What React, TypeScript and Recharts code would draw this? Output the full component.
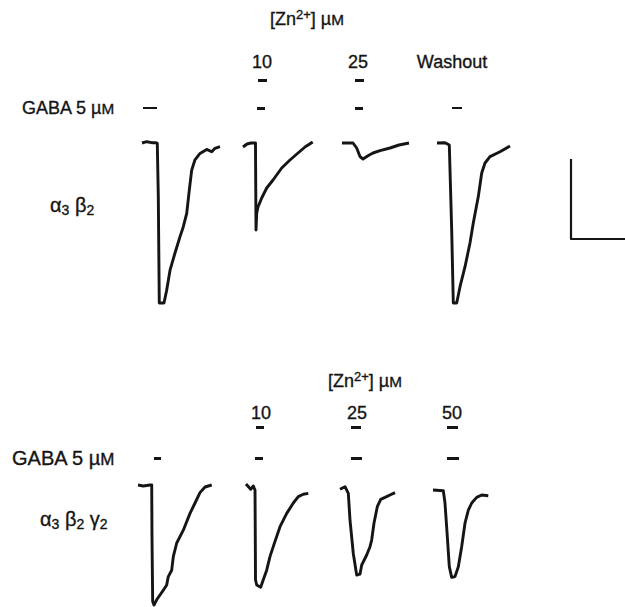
import React from "react";
import { LineChart, Line, XAxis, YAxis } from "recharts";

// scale: 10 s horizontal bar, 100 nA vertical bar
const PX_PER_S = 5.4;
const PX_PER_NA = 0.8;
const W = 625;

// alpha3 beta2 traces (t in s, i in nA)
const a3b2Control = [
  { t: 0, i: 0 }, { t: 0.87, i: 1.6 }, { t: 1.8, i: 0.4 }, { t: 2.59, i: 0.4 },
  { t: 2.83, i: -0.4 }, { t: 3.02, i: -67 }, { t: 3.2, i: -200 }, { t: 4.07, i: -200 },
  { t: 4.57, i: -184 }, { t: 5.19, i: -159 }, { t: 6.11, i: -137.5 }, { t: 7.04, i: -117 },
  { t: 7.65, i: -104.6 }, { t: 8.28, i: -88 }, { t: 8.76, i: -59 }, { t: 9.2, i: -34 },
  { t: 9.81, i: -21 }, { t: 10.74, i: -13 }, { t: 11.98, i: -8 }, { t: 12.91, i: -11 },
  { t: 13.52, i: -6.6 }, { t: 14.44, i: -4.6 },
];
const a3b2Zn10 = [
  { t: 0, i: -5 }, { t: 0.74, i: -1.25 }, { t: 1.48, i: 0 }, { t: 2.31, i: 0 },
  { t: 2.41, i: -108.75 }, { t: 2.54, i: -87.5 }, { t: 2.78, i: -80 }, { t: 3.46, i: -68.75 },
  { t: 4.39, i: -56.25 }, { t: 5.56, i: -46.25 }, { t: 7.17, i: -31.25 }, { t: 8.7, i: -21.25 },
  { t: 10.19, i: -12.5 }, { t: 11.48, i: -5 }, { t: 12.91, i: 1.25 },
];
const a3b2Zn25 = [
  { t: 0, i: 0 }, { t: 2.04, i: 0 }, { t: 2.72, i: -6.25 }, { t: 3.33, i: -17 },
  { t: 3.89, i: -20 }, { t: 4.81, i: -16 }, { t: 5.74, i: -12.5 }, { t: 7.04, i: -9.6 },
  { t: 8.89, i: -6.25 }, { t: 10.56, i: -2.5 }, { t: 12.41, i: 0 },
];
const a3b2Washout = [
  { t: 0, i: 0 }, { t: 1.48, i: 0.4 }, { t: 2.28, i: -2.5 }, { t: 2.72, i: -108.75 },
  { t: 3.02, i: -200 }, { t: 3.65, i: -200 }, { t: 4.26, i: -179.6 }, { t: 5.19, i: -154.6 },
  { t: 6.11, i: -125 }, { t: 6.72, i: -100 }, { t: 7.65, i: -67 }, { t: 8.28, i: -37.5 },
  { t: 8.89, i: -25 }, { t: 9.81, i: -17 }, { t: 11.67, i: -11 }, { t: 13.52, i: -3.75 },
];

// alpha3 beta2 gamma2 traces
const a3b2g2Control = [
  { t: 0, i: 2.5 }, { t: 0.98, i: 1.25 }, { t: 2.22, i: 2.5 }, { t: 2.54, i: 2.5 },
  { t: 2.59, i: -62 }, { t: 2.72, i: -143 }, { t: 2.96, i: -147.5 }, { t: 3.46, i: -141 },
  { t: 4.07, i: -135 }, { t: 4.69, i: -129 }, { t: 5.31, i: -122.5 }, { t: 5.61, i: -112 },
  { t: 6.24, i: -104 }, { t: 6.54, i: -87 }, { t: 7.17, i: -70 }, { t: 8.39, i: -54 },
  { t: 9.63, i: -33 }, { t: 10.56, i: -20 }, { t: 11.48, i: -7 }, { t: 12.41, i: 0 },
  { t: 13.65, i: 2.5 },
];
const a3b2g2Zn10 = [
  { t: 0, i: 3.75 }, { t: 0.87, i: -2.9 }, { t: 1.35, i: 1.25 }, { t: 1.67, i: -3.75 },
  { t: 1.72, i: -62 }, { t: 1.76, i: -116 }, { t: 1.98, i: -122.5 }, { t: 2.72, i: -125.4 },
  { t: 3.2, i: -116 }, { t: 3.83, i: -104 }, { t: 4.44, i: -87 }, { t: 5.37, i: -68 },
  { t: 6.3, i: -49.6 }, { t: 7.54, i: -33 }, { t: 8.76, i: -20 }, { t: 9.69, i: -12 },
  { t: 10.61, i: -9 }, { t: 11.54, i: -8 },
];
const a3b2g2Zn25 = [
  { t: 0, i: -2.9 }, { t: 0.93, i: 0.4 }, { t: 1.54, i: -8 }, { t: 1.85, i: -41 },
  { t: 2.46, i: -83 }, { t: 3.09, i: -110 }, { t: 3.7, i: -109 }, { t: 4.02, i: -97.5 },
  { t: 4.94, i: -85 }, { t: 5.56, i: -74.6 }, { t: 5.87, i: -66 }, { t: 6.3, i: -45 },
  { t: 6.91, i: -24.6 }, { t: 7.54, i: -15.4 }, { t: 8.33, i: -13 }, { t: 9.26, i: -10 },
  { t: 10.19, i: -7 },
];
const a3b2g2Zn50 = [
  { t: 0, i: -3.75 }, { t: 1.91, i: -4.6 }, { t: 2.22, i: -20 }, { t: 2.65, i: -62 },
  { t: 3.02, i: -99.6 }, { t: 3.46, i: -113 }, { t: 4.07, i: -112 }, { t: 4.69, i: -99.6 },
  { t: 5.31, i: -74.6 }, { t: 5.93, i: -45 }, { t: 6.54, i: -29 }, { t: 7.17, i: -20 },
  { t: 8.09, i: -13 }, { t: 9.02, i: -10 }, { t: 10.24, i: -11 },
];

// calibration: 10 s / 100 nA
const scaleBar = [
  { t: 0, i: -20 }, { t: 0, i: -120 }, { t: 10, i: -120 },
];

const INK = "#151515";

type Trace = { id: string; x0: number; data: { t: number; i: number }[]; w?: number };

const topTraces: Trace[] = [
  { id: "c", x0: 142, data: a3b2Control },
  { id: "z10", x0: 243, data: a3b2Zn10 },
  { id: "z25", x0: 342, data: a3b2Zn25 },
  { id: "wo", x0: 437, data: a3b2Washout },
  { id: "bar", x0: 571, data: scaleBar, w: 2.2 },
];
const bottomTraces: Trace[] = [
  { id: "c", x0: 138, data: a3b2g2Control },
  { id: "z10", x0: 246, data: a3b2g2Zn10 },
  { id: "z25", x0: 340, data: a3b2g2Zn25 },
  { id: "z50", x0: 433, data: a3b2g2Zn50 },
];

const Panel = ({ traces, top, height, baseline }: { traces: Trace[]; top: number; height: number; baseline: number }) => {
  const yDomain = [-(height - baseline) / PX_PER_NA, baseline / PX_PER_NA];
  return (
    <div style={{ position: "absolute", left: 0, top }}>
      <LineChart width={W} height={height} margin={{ top: 0, right: 0, bottom: 0, left: 0 }}>
        {traces.map((tr) => (
          <XAxis
            key={tr.id}
            xAxisId={tr.id}
            dataKey="t"
            type="number"
            domain={[-tr.x0 / PX_PER_S, (W - tr.x0) / PX_PER_S]}
            allowDataOverflow
            hide
          />
        ))}
        <YAxis type="number" domain={yDomain} allowDataOverflow hide />
        {traces.map((tr) => (
          <Line
            key={tr.id}
            xAxisId={tr.id}
            data={tr.data}
            dataKey="i"
            type="linear"
            stroke={INK}
            strokeWidth={tr.w ?? 2.9}
            strokeLinejoin="round"
            dot={false}
            isAnimationActive={false}
          />
        ))}
      </LineChart>
    </div>
  );
};

const Txt = ({ x, y, size, children, left }: { x: number; y: number; size: number; children: React.ReactNode; left?: boolean }) => (
  <div
    style={{
      position: "absolute",
      left: x,
      top: y,
      transform: left ? "translate(0,-50%)" : "translate(-50%,-50%)",
      fontSize: size,
      lineHeight: 1,
      whiteSpace: "nowrap",
      color: INK,
      WebkitTextStroke: "0.35px " + INK,
    }}
  >
    {children}
  </div>
);

const Dash = ({ x, y, w, h = 3 }: { x: number; y: number; w: number; h?: number }) => (
  <div style={{ position: "absolute", left: x - w / 2, top: y - h / 2, width: w, height: h, background: INK }} />
);

const Zn = () => (
  <>
    [Zn<sup style={{ fontSize: "0.72em", verticalAlign: "0.5em", lineHeight: 0 }}>2+</sup>] µ<span style={{ fontSize: "0.85em" }}>M</span>
  </>
);
const Gaba = () => (
  <>
    GABA 5 µ<span style={{ fontSize: "0.85em" }}>M</span>
  </>
);
const sub = { fontSize: "0.7em", verticalAlign: "-0.25em" };

export default function App() {
  return (
    <div
      style={{
        position: "absolute",
        left: 0,
        top: 0,
        width: W,
        height: 607,
        background: "#fff",
        fontFamily: "'Liberation Sans', Arial, Helvetica, sans-serif",
        overflow: "hidden",
      }}
    >
      {/* alpha3 beta2 */}
      <Txt x={307} y={19} size={18}><Zn /></Txt>
      <Txt x={262} y={62} size={18}>10</Txt>
      <Txt x={358} y={62} size={18}>25</Txt>
      <Txt x={452} y={62} size={18}>Washout</Txt>
      <Dash x={262} y={80} w={9} />
      <Dash x={359} y={80} w={9} />
      <Txt x={22} y={108} size={18} left><Gaba /></Txt>
      <Dash x={150} y={108} w={14} h={2} />
      <Dash x={261} y={108} w={8} />
      <Dash x={359} y={108} w={8} />
      <Dash x={457} y={108} w={10} h={2.5} />
      <Txt x={50} y={206} size={20} left>
        α<span style={sub}>3</span> β<span style={sub}>2</span>
      </Txt>
      <Panel traces={topTraces} top={130} height={190} baseline={13} />

      {/* alpha3 beta2 gamma2 */}
      <Txt x={365} y={381} size={18}><Zn /></Txt>
      <Txt x={261} y={413} size={18}>10</Txt>
      <Txt x={357} y={413} size={18}>25</Txt>
      <Txt x={452} y={413} size={18}>50</Txt>
      <Dash x={260} y={427} w={8} />
      <Dash x={356} y={427} w={10} />
      <Dash x={452} y={427} w={11} />
      <Txt x={12} y={458} size={20} left><Gaba /></Txt>
      <Dash x={157} y={458} w={7} />
      <Dash x={259} y={458} w={8} />
      <Dash x={356} y={458} w={11} />
      <Dash x={453} y={458} w={12} />
      <Txt x={40} y={520} size={20} left>
        α<span style={sub}>3</span> β<span style={sub}>2</span> γ<span style={sub}>2</span>
      </Txt>
      <Panel traces={bottomTraces} top={470} height={137} baseline={17} />
    </div>
  );
}
